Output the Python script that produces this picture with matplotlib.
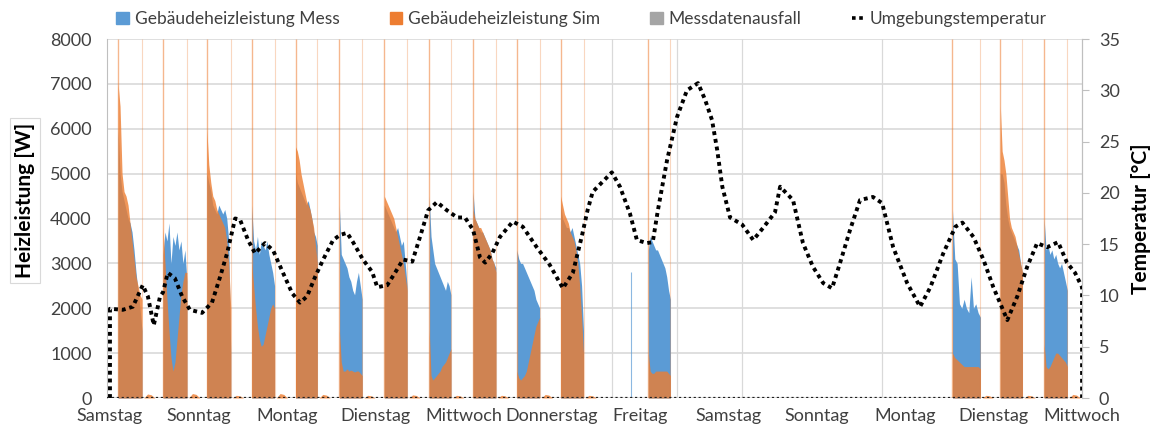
# Gebäudeheizleistung Messung vs. Simulation mit Umgebungstemperatur
import numpy as np
import matplotlib.pyplot as plt
from matplotlib.lines import Line2D
from matplotlib.patches import Patch

plt.rcParams['font.family'] = ['Lato', 'DejaVu Sans']

# x-Achse: Stunden ab Samstag 0:00
tage = ["Samstag", "Sonntag", "Montag", "Dienstag", "Mittwoch", "Donnerstag",
        "Freitag", "Samstag", "Sonntag", "Montag", "Dienstag", "Mittwoch"]
tag_h = [0, 24, 48, 72, 96, 120, 144, 168, 192, 216, 240, 264]

# Heizperioden (Beginn / Ende in h)
block_start = [2.2, 14.4, 26.3, 38.5, 50.4, 62.3, 74.5, 86.7, 98.6, 110.5, 122.4, 146.2, 228.8, 241.8, 253.7]
block_ende = [8.7, 20.9, 32.8, 44.7, 56.3, 68.5, 80.7, 92.6, 104.8, 116.7, 128.6, 152.2, 236.4, 247.8, 260.0]

# Gemessene Heizleistung je Heizperiode [W]
mess = [
    [6000, 5000, 4600, 4400, 4200, 4000, 3900, 3700, 3300, 2800, 2400, 2000, 1500],
    [3200, 3700, 3500, 3900, 3000, 3600, 3400, 3700, 3300, 3500, 3000, 3300, 2600],
    [5000, 4800, 4600, 4300, 4200, 4100, 4300, 4200, 4100, 4200, 4000, 3500, 1000],
    [4300, 3500, 3300, 3600, 3200, 3500, 3400, 3300, 3500, 3200, 3000, 2800, 2500],
    [5000, 4800, 4700, 4600, 4500, 4400, 4300, 4400, 4200, 4000, 3700, 3600, 3400],
    [4300, 3200, 3100, 3000, 2900, 2700, 2600, 2400, 2300, 2600, 2800, 2500, 2200],
    [4300, 4200, 4100, 4000, 3900, 3800, 3700, 3800, 3600, 3400, 3500, 3000, 2500],
    [4500, 3600, 3300, 3000, 2900, 2800, 2700, 2600, 2500, 2400, 2600, 2500, 2300],
    [4600, 4000, 3900, 3800, 3700, 3700, 3600, 3500, 3400, 3300, 3100, 3000, 2900],
    [3300, 3100, 3000, 3000, 2900, 2800, 2700, 2600, 2500, 2400, 2200, 2100, 2000],
    [4300, 4000, 3900, 3800, 3800, 3700, 3800, 3600, 3400, 3200, 3000, 2500, 1500],
    [3300, 3600, 3500, 3400, 3300, 3300, 3200, 3100, 3000, 2900, 2700, 2400, 2200],
    [4200, 3100, 3000, 2100, 2000, 2200, 2000, 1900, 2700, 2000, 2100, 1900, 1800],
    [5000, 5000, 4800, 4300, 4000, 3800, 3700, 3600, 3500, 3400, 3300, 3000, 2800],
    [4000, 3300, 3400, 3200, 3300, 3100, 3200, 3000, 2900, 3000, 2800, 2600, 2400],
]

# Simulierte Heizleistung je Heizperiode [W]
sim = [
    [7000, 6500, 5000, 4600, 4500, 4300, 3900, 3500, 3100, 2700, 2500, 2300, 2200],
    [3800, 3000, 2200, 1500, 900, 600, 800, 1300, 1800, 2300, 2600, 2800, 2800],
    [6000, 5200, 4800, 4500, 4400, 4200, 4100, 4000, 3900, 3800, 3500, 3000, 2000],
    [3000, 2500, 2000, 1600, 1300, 1150, 1200, 1400, 1600, 1800, 2000, 2100, 2000],
    [5600, 5500, 5300, 5000, 4800, 4600, 4400, 4300, 4200, 4000, 3800, 3400, 3000],
    [1500, 800, 600, 600, 650, 600, 620, 600, 580, 600, 600, 550, 500],
    [4500, 4400, 4300, 4200, 4100, 4000, 3800, 3600, 3400, 3200, 3000, 2700, 2400],
    [1500, 500, 400, 450, 500, 550, 600, 700, 750, 800, 900, 1000, 1100],
    [4200, 4000, 3900, 3800, 3800, 3700, 3600, 3500, 3400, 3300, 3100, 3000, 2800],
    [600, 450, 400, 450, 500, 600, 800, 1000, 1200, 1400, 1600, 1700, 1800],
    [4500, 4300, 4100, 4000, 3900, 3700, 3600, 3500, 3300, 3000, 2500, 1800, 1000],
    [1000, 600, 550, 550, 600, 600, 600, 600, 600, 600, 600, 550, 500],
    [1000, 900, 850, 800, 750, 700, 700, 700, 700, 700, 700, 700, 650],
    [6500, 5500, 5300, 5000, 4500, 4000, 3800, 3700, 3600, 3400, 3200, 3000, 2800],
    [1200, 700, 650, 700, 800, 900, 1000, 1000, 950, 900, 850, 800, 700],
]

# kleine Nachlaufspitzen der Simulation nach jeder Heizperiode [W]
sim_nachlauf = [90, 100, 60, 100, 80, 60, 70, 60, 60, 80, 60, 0, 60, 60, 80]
sim_spitze = 8000  # kurze Spitzen bei Ein-/Ausschalten

# einzelner Messwert Freitag
mess_einzel_h = [141.5]
mess_einzel_w = [2800]

# Umgebungstemperatur [°C]
temp_h = [0.0, 0.0, 3.5, 6.2, 8.9, 10.3, 11.9, 13.6, 14.4, 15.7, 17.6, 19.6, 21.7, 25.0,
          27.7, 29.9, 31.8, 34.0, 35.3, 37.5, 39.4, 42.1, 44.3, 47.0, 49.5, 51.6, 53.5,
          55.7, 57.9, 60.6, 62.5, 64.4, 66.0, 68.7, 71.2, 72.6, 75.3, 77.4, 79.6, 82.1,
          84.2, 86.4, 88.8, 91.5, 94.3, 96.4, 98.6, 100.5, 101.9, 103.8, 105.9, 109.4,
          112.1, 115.9, 119.4, 123.0, 125.7, 128.1, 129.7, 131.1, 136.3, 138.5, 141.2,
          143.1, 145.8, 147.4, 148.8, 151.3, 154.0, 156.7, 159.7, 161.6, 163.5, 164.9,
          166.3, 168.4, 171.7, 174.7, 177.4, 180.6, 182.0, 185.5, 188.2, 190.9, 193.7,
          196.1, 198.3, 201.0, 203.7, 207.2, 209.7, 212.7, 216.5, 220.0, 222.8, 226.3,
          229.6, 231.5, 234.5, 237.2, 239.9, 243.7, 246.4, 249.1, 251.8, 254.5, 257.5,
          259.9, 262.1, 264.0, 264.0]
temp_c = [0.0, 8.7, 8.6, 8.9, 11.0, 9.9, 7.1, 9.9, 10.3, 12.2, 11.7, 9.9, 8.6, 8.3,
          9.3, 11.8, 14.1, 17.5, 17.4, 15.4, 14.1, 15.1, 14.4, 12.2, 10.2, 9.3, 9.9,
          11.8, 13.5, 15.4, 15.9, 16.1, 15.2, 13.5, 12.3, 10.8, 11.0, 12.2, 13.5, 13.3,
          15.7, 18.3, 19.1, 18.3, 17.6, 17.6, 16.4, 13.7, 13.2, 14.1, 15.7, 17.2,
          16.7, 14.7, 13.0, 10.7, 12.2, 15.7, 18.3, 20.1, 22.0, 20.6, 18.0,
          15.4, 15.1, 15.2, 18.3, 23.2, 27.4, 30.0, 30.7, 29.1, 27.1, 24.2,
          20.6, 17.6, 16.9, 15.4, 16.6, 18.1, 20.6, 19.3, 15.1, 12.8, 11.2,
          10.7, 13.2, 16.4, 19.3, 19.6, 19.0, 14.7, 11.2, 8.9, 10.8, 14.1,
          16.7, 17.1, 15.7, 13.5, 10.8, 7.6, 9.9, 12.8, 15.1, 14.7, 15.2,
          13.2, 12.2, 10.8, 0.0]

# schwache senkrechte Gitterlinien
vgrid_h = [136.3, 154.0, 171.7, 209.7]


def serie(profile):
    # Zeitreihe mit senkrechten Flanken aus den Heizperioden aufbauen
    xs, ys = [], []
    for s, e, p in zip(block_start, block_ende, profile):
        t = np.linspace(s, e, len(p))
        xs += [s] + list(t) + [e]
        ys += [0] + list(p) + [0]
    return np.array(xs), np.array(ys)


def main():
    blau = '#5B9BD5'
    orange = '#ED7D31'
    grau = '#A5A5A5'
    text = '#404040'

    fig = plt.figure(figsize=(11.52, 4.30), dpi=100)
    ax = fig.add_axes([0.0929, 0.0744, 0.8464, 0.8349])

    ax.set_xlim(-0.8, 264)
    ax.set_ylim(0, 8000)
    ax.set_yticks(range(0, 8001, 1000))
    ax.grid(axis='y', color='#D9D9D9', lw=1.2)
    for h in vgrid_h:
        ax.axvline(h, color='#D9D9D9', lw=0.9, zorder=0)
    ax.set_axisbelow(True)

    xm, ym = serie(mess)
    xs, ys = serie(sim)
    ax.fill_between(xm, ym, color=blau, lw=0, zorder=2)
    ax.vlines(mess_einzel_h, 0, mess_einzel_w, color=blau, lw=0.8, alpha=0.7, zorder=2)
    ax.fill_between(xs, ys, color=orange, alpha=0.8, lw=0, zorder=3)

    # Ein-/Ausschaltspitzen der Simulation
    ax.vlines(block_start, 0, sim_spitze, color=orange, lw=1.0, alpha=0.55, zorder=3)
    ax.vlines(block_ende, 0, sim_spitze, color=orange, lw=0.8, alpha=0.3, zorder=3)

    # Nachlauf
    for e, v in zip(block_ende, sim_nachlauf):
        if v > 0:
            ax.fill_between([e + 0.5, e + 1.5, e + 2.5, e + 3.5], [0, v, v * 0.8, 0],
                            color=orange, alpha=0.8, lw=0, zorder=3)

    ax.set_xticks(tag_h)
    ax.set_xticklabels(tage)
    ax.tick_params(axis='y', length=0, labelsize=13, colors=text, pad=11)
    ax.tick_params(axis='x', length=0, labelsize=13, colors=text, pad=7)
    for side in ['top', 'bottom']:
        ax.spines[side].set_visible(False)
    ax.spines['left'].set_color('#BFBFBF')
    ax.spines['right'].set_color('#BFBFBF')

    ax.set_ylabel("Heizleistung [W]", fontsize=15, fontweight='bold', color='black',
                  bbox=dict(boxstyle='square,pad=0.25', fc='white', ec='#D9D9D9', lw=0.8))
    ax.yaxis.set_label_coords(-0.074, 0.55)

    ax2 = ax.twinx()
    ax2.set_ylim(0, 35)
    ax2.set_yticks(range(0, 36, 5))
    ax2.plot(temp_h, temp_c, color='black', lw=2.8, ls=(0, (1, 1.0)), zorder=5)
    ax2.axhline(0, color='#202020', lw=1.6, ls=(0, (1, 1.2)), zorder=5)
    ax2.tick_params(axis='y', length=5, width=0.8, color='#BFBFBF', labelsize=13,
                    labelcolor=text, pad=7)
    for side in ['top', 'bottom', 'left']:
        ax2.spines[side].set_visible(False)
    ax2.spines['right'].set_color('#BFBFBF')
    ax2.set_ylabel("Temperatur [°C]", fontsize=15, fontweight='bold', color='black',
                   labelpad=8)

    handles = [
        Patch(color=blau),
        Patch(color=orange),
        Patch(color=grau),
        Line2D([], [], color='black', lw=2.6, ls=(0, (1, 1.0))),
    ]
    labels = ["Gebäudeheizleistung Mess", "Gebäudeheizleistung Sim",
              "Messdatenausfall", "Umgebungstemperatur"]
    fig.legend(handles, labels, loc='upper center', bbox_to_anchor=(0.505, 1.01),
               ncol=4, frameon=False, fontsize=12.5, labelcolor=text,
               handlelength=0.7, handleheight=0.7, handletextpad=0.35, columnspacing=2.9)

    fig.savefig("out.png", dpi=100)


if __name__ == '__main__':
    main()
